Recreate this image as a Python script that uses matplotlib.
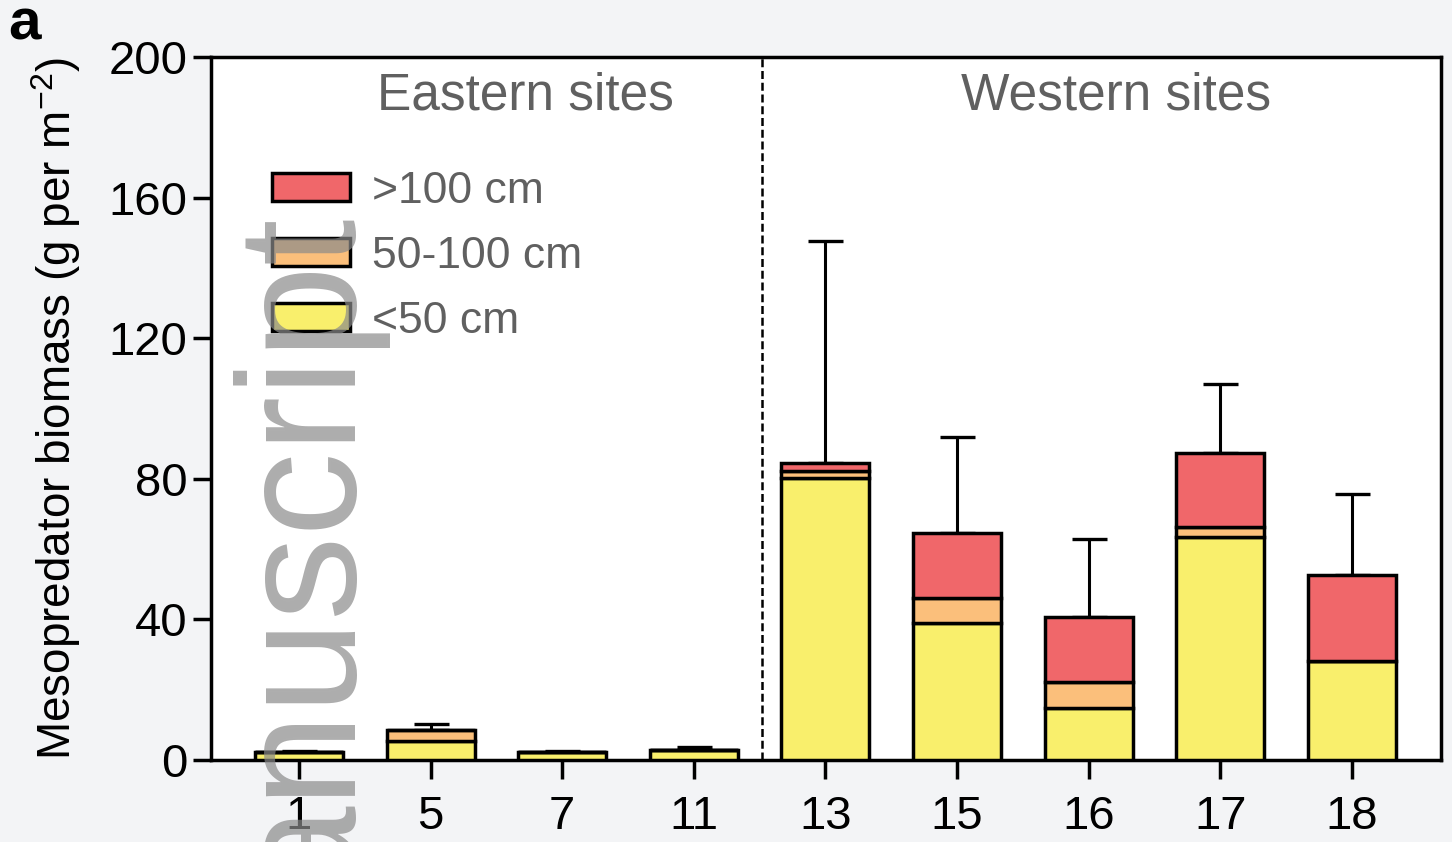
import numpy as np
import matplotlib
matplotlib.use("Agg")
import matplotlib.pyplot as plt
from matplotlib.patches import Patch

plt.rcParams['font.family'] = ['Liberation Sans', 'DejaVu Sans']

sites = ['1', '5', '7', '11', '13', '15', '16', '17', '18']
small = [2.3, 5.4, 2.4, 2.8, 80.1, 38.9, 14.9, 63.5, 28.3]      # <50 cm
medium = [0.0, 3.1, 0.0, 0.0, 2.0, 7.3, 7.4, 2.9, 0.0]         # 50-100 cm
large = [0.0, 0.0, 0.0, 0.0, 2.3, 18.5, 18.5, 21.0, 24.3]      # >100 cm
upper_err = [0.3, 1.7, 0.2, 0.8, 63.2, 27.2, 22.1, 19.6, 23.1]
size_labels = ['<50 cm', '50-100 cm', '>100 cm']
colors = ['#f9ef6c', '#fbbf7b', '#f0676a']

bg = '#f3f4f6'
lw = 2.5
grey_text = '#606060'

fig = plt.figure(figsize=(14.52, 8.42), dpi=100, facecolor=bg)
ax = fig.add_axes([0.1453, 0.0974, 0.9924 - 0.1453, 0.9323 - 0.0974])
ax.set_facecolor('white')

x = np.arange(len(sites))
w = 0.668
small = np.array(small)
medium = np.array(medium)
large = np.array(large)
total = small + medium + large

ax.bar(x, small, w, color=colors[0], edgecolor='black', linewidth=lw, zorder=3)
ax.bar(x, medium, w, bottom=small, color=colors[1], edgecolor='black', linewidth=lw, zorder=3)
ax.bar(x, large, w, bottom=small + medium, color=colors[2], edgecolor='black', linewidth=lw, zorder=3)
ax.errorbar(x, total, yerr=[np.zeros(len(x)), upper_err], fmt='none', ecolor='black',
            elinewidth=2.2, capsize=12.6, capthick=2.4, zorder=2)

# east / west split
ax.axvline(3.52, color='black', linestyle=(0, (3.2, 1.5)), linewidth=1.8, zorder=1)
ax.text(1.72, 185, 'Eastern sites', ha='center', va='baseline', fontsize=37, color=grey_text)
ax.text(6.21, 185, 'Western sites', ha='center', va='baseline', fontsize=37, color=grey_text)

ax.set_xlim(-0.668, 8.676)
ax.set_ylim(0, 200)
ax.set_yticks([0, 40, 80, 120, 160, 200])
ax.set_xticks(x)
ax.set_xticklabels(sites)
for s in ax.spines.values():
    s.set_linewidth(lw)
ax.tick_params(axis='y', length=13, width=lw, labelsize=34, pad=4)
ax.tick_params(axis='x', length=14, width=lw, labelsize=34, pad=11)

ax.set_ylabel('Mesopredator biomass (g per m$^{\\mathregular{-2}}$)', fontsize=33, labelpad=18)

handles = [Patch(facecolor=c, edgecolor='black', linewidth=lw) for c in colors][::-1]
leg = ax.legend(handles, size_labels[::-1], loc='upper left', bbox_to_anchor=(0.017, 0.895),
                frameon=False, fontsize=32, handlelength=1.75, handleheight=0.6,
                labelspacing=0.54, handletextpad=0.5)
for t in leg.get_texts():
    t.set_color(grey_text)

fig.text(8 / 1452, 1 - 40 / 842, 'a', fontsize=42, fontweight='bold', va='baseline')

# watermark
fig.text(349 / 1452, 1 - 210 / 842, 'anuscript', rotation=90, rotation_mode='anchor',
         ha='right', va='baseline', fontsize=121, color='#8a8a8a', alpha=0.7, zorder=10)

fig.savefig('out.png', dpi=100, facecolor=bg)
